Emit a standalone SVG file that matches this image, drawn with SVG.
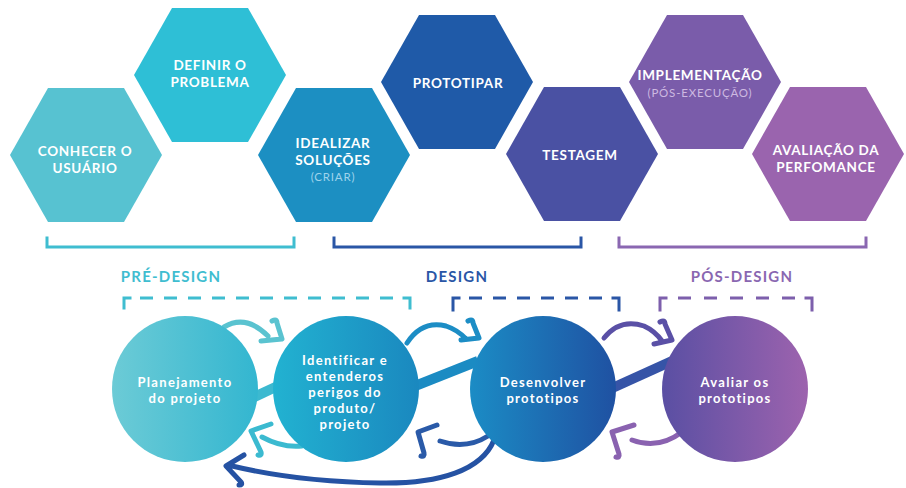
<svg xmlns="http://www.w3.org/2000/svg" xmlns:xlink="http://www.w3.org/1999/xlink" width="906" height="488" viewBox="0 0 906 488">
  <defs>
    <polygon id="hex" points="-76,0 -38,-67 38,-67 76,0 38,67 -38,67"/>
    <linearGradient id="g1" x1="0" y1="0" x2="1" y2="0"><stop offset="0" stop-color="#6ccbd6"/><stop offset="1" stop-color="#33b6d0"/></linearGradient>
    <linearGradient id="g2" x1="0" y1="0" x2="1" y2="0"><stop offset="0" stop-color="#22b2d1"/><stop offset="1" stop-color="#1a88bf"/></linearGradient>
    <linearGradient id="g3" x1="0" y1="0" x2="1" y2="0"><stop offset="0" stop-color="#1b8cc5"/><stop offset="1" stop-color="#1f51a2"/></linearGradient>
    <linearGradient id="g4" x1="0" y1="0" x2="1" y2="0"><stop offset="0" stop-color="#5a4fa3"/><stop offset="1" stop-color="#9d63ae"/></linearGradient>
    <style>
      .ht { font-family: Lato, "Liberation Sans", sans-serif; font-weight: 700; font-size: 13.5px; letter-spacing: 0.7px; fill: #ffffff; text-anchor: middle; }
      .hs { font-family: Lato, "Liberation Sans", sans-serif; font-weight: 400; font-size: 11.5px; letter-spacing: 0.8px; text-anchor: middle; }
      .ct { font-family: Lato, "Liberation Sans", sans-serif; font-weight: 700; font-size: 13px; letter-spacing: 1.3px; fill: #ffffff; text-anchor: middle; }
      .lb { font-family: Lato, "Liberation Sans", sans-serif; font-weight: 700; font-size: 15px; letter-spacing: 1.2px; text-anchor: middle; }
      .br { fill: none; stroke-width: 3; stroke-linecap: square; }
      .dash { fill: none; stroke-width: 3; }
      .bar { fill: none; stroke-width: 10; stroke-linecap: butt; }
      .arr { fill: none; stroke-width: 5; stroke-linecap: round; stroke-linejoin: round; }
    </style>
  </defs>
  <rect width="906" height="488" fill="#ffffff"/>

  <!-- Hexagons -->
  <g id="hex-conhecer">
    <use xlink:href="#hex" x="86" y="155" fill="#57c2d1"/>
    <text class="ht" x="85" y="156">CONHECER O</text>
    <text class="ht" x="85" y="173">USUÁRIO</text>
  </g>
  <g id="hex-definir">
    <use xlink:href="#hex" x="210" y="75" fill="#2ebfd6"/>
    <text class="ht" x="210" y="70">DEFINIR O</text>
    <text class="ht" x="210" y="87">PROBLEMA</text>
  </g>
  <g id="hex-idealizar">
    <use xlink:href="#hex" x="334" y="155" fill="#1c8fc2"/>
    <text class="ht" x="333" y="148">IDEALIZAR</text>
    <text class="ht" x="333" y="165">SOLUÇÕES</text>
    <text class="hs" x="333" y="181" fill="#9fd4ec">(CRIAR)</text>
  </g>
  <g id="hex-prototipar">
    <use xlink:href="#hex" x="457" y="82" fill="#1f5aa8"/>
    <text class="ht" x="458" y="88">PROTOTIPAR</text>
  </g>
  <g id="hex-testagem">
    <use xlink:href="#hex" x="582" y="154" fill="#4a51a3"/>
    <text class="ht" x="580" y="160">TESTAGEM</text>
  </g>
  <g id="hex-implementacao">
    <use xlink:href="#hex" x="705" y="82" fill="#7a5caa"/>
    <text class="ht" x="700" y="80">IMPLEMENTAÇÃO</text>
    <text class="hs" x="700" y="97" fill="#cdb9e1">(PÓS-EXECUÇÃO)</text>
  </g>
  <g id="hex-avaliacao">
    <use xlink:href="#hex" x="828" y="154" fill="#9a64ae"/>
    <text class="ht" x="826" y="155">AVALIAÇÃO DA</text>
    <text class="ht" x="826" y="172">PERFOMANCE</text>
  </g>

  <!-- Phase brackets and labels -->
  <g id="phase-pre">
    <path class="br" d="M47 238 V247 H294 V238" stroke="#3fbdd0"/>
    <text class="lb" x="171" y="282" fill="#3fbdd0">PRÉ-DESIGN</text>
    <path class="dash" d="M124 308 V298 H130 M404 298 H410 V308" stroke="#3fbdd0" stroke-linecap="square"/>
    <path class="dash" d="M140 298 H393" stroke="#3fbdd0" stroke-dasharray="13 11"/>
  </g>
  <g id="phase-design">
    <path class="br" d="M334 238 V247 H581 V238" stroke="#2a56a6"/>
    <text class="lb" x="457" y="282" fill="#2a56a6">DESIGN</text>
    <path class="dash" d="M453 310 V298 H459 M613 298 H619 V310" stroke="#2a56a6" stroke-linecap="square"/>
    <path class="dash" d="M469 298 H605" stroke="#2a56a6" stroke-dasharray="13 11"/>
  </g>
  <g id="phase-pos">
    <path class="br" d="M619 238 V247 H866 V238" stroke="#8a67b1"/>
    <text class="lb" x="742" y="282" fill="#8a67b1">PÓS-DESIGN</text>
    <path class="dash" d="M660 310 V298 H666 M806 298 H812 V310" stroke="#7d5fac" stroke-linecap="square"/>
    <path class="dash" d="M678 298 H795" stroke="#7d5fac" stroke-dasharray="13 13"/>
  </g>

  <!-- Connectors -->
  <g id="connectors">
    <path class="bar" d="M250 399 L282 384" stroke="#3cb9d0"/>
    <path class="bar" d="M410 388 L478 361" stroke="#1b8bc3"/>
    <path class="bar" d="M608 390 L672 361" stroke="#3654a7"/>

    <path class="arr" stroke="#5ac3d0" d="M224 327 Q246 314 268 336 M272 321 Q277 318 277 323 L282 339 L261 341"/>
    <path class="arr" stroke="#1c8dc5" d="M407 343 Q422 320 446 326 Q458 330 466 339 M468 321 Q473 318 473 323 L479 338 L461 340"/>
    <path class="arr" stroke="#5a50a6" d="M604 338 Q620 318 644 326 Q655 331 662 341 M660 322 Q665 319 665 324 L672 340 L654 344"/>

    <path class="arr" stroke="#3bbad0" d="M302 446 Q282 448 262 437 M271 424 L251 431 L261 452 Q262 456 258 455"/>
    <path class="arr" stroke="#2a5aa8" d="M488 436 Q466 450 440 441 M437 425 L418 432 L424 453 Q425 457 421 456"/>
    <path class="arr" stroke="#8a62b0" d="M682 432 Q658 450 632 440 M634 425 L612 432 L619 454 Q620 458 616 457"/>

    <path class="arr" stroke="#2552a3" d="M494 440 C482 470 440 484 380 483 C320 482 270 475 232 466 M244 455 L226 466 L241 482 Q243 485 239 485"/>
  </g>

  <!-- Circles -->
  <g id="circle-planejamento">
    <circle cx="185" cy="389" r="73" fill="url(#g1)"/>
    <text class="ct" x="185" y="387">Planejamento</text>
    <text class="ct" x="185" y="403">do projeto</text>
  </g>
  <g id="circle-identificar">
    <circle cx="346" cy="389" r="73" fill="url(#g2)"/>
    <text class="ct" x="345" y="365">Identificar e</text>
    <text class="ct" x="345" y="381">entenderos</text>
    <text class="ct" x="345" y="397">perigos do</text>
    <text class="ct" x="345" y="413">produto/</text>
    <text class="ct" x="345" y="429">projeto</text>
  </g>
  <g id="circle-desenvolver">
    <circle cx="543" cy="389" r="73" fill="url(#g3)"/>
    <text class="ct" x="543" y="387">Desenvolver</text>
    <text class="ct" x="543" y="403">prototipos</text>
  </g>
  <g id="circle-avaliar">
    <circle cx="735" cy="389" r="73" fill="url(#g4)"/>
    <text class="ct" x="735" y="387">Avaliar os</text>
    <text class="ct" x="735" y="403">prototipos</text>
  </g>
</svg>
